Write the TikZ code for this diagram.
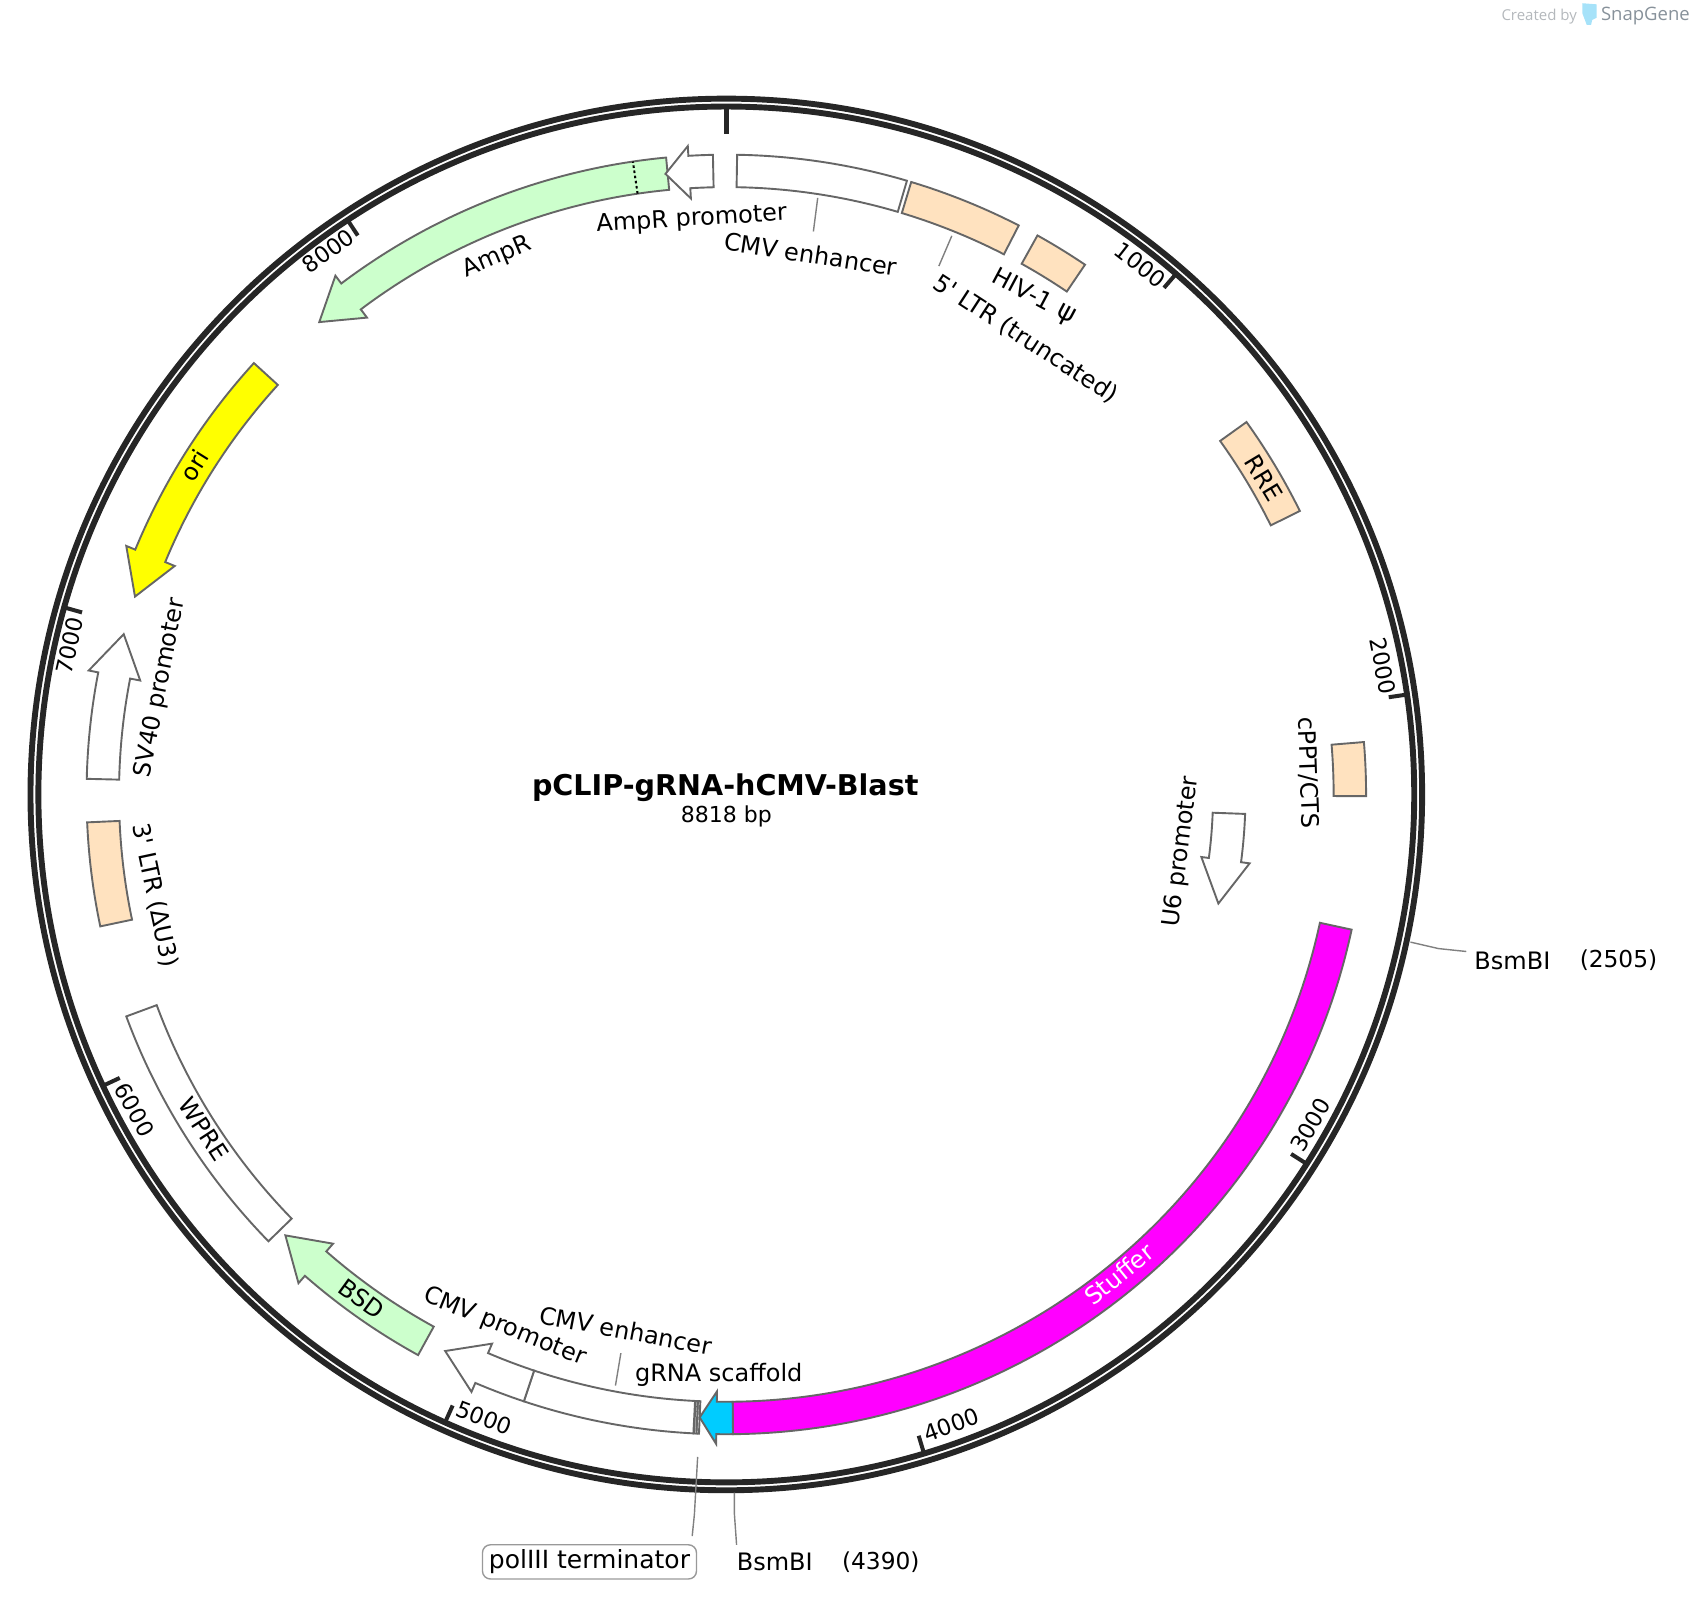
\documentclass[tikz,border=0pt]{standalone}
\usepackage{fontspec}
\setmainfont{DejaVu Sans}
\newfontfamily\markfont{Open Sans}
\usetikzlibrary{positioning}
\definecolor{ringcol}{HTML}{262626}
\definecolor{featline}{HTML}{666666}
\definecolor{ampgreen}{HTML}{CCFFCC}
\definecolor{ltrpeach}{HTML}{FFE2BF}
\definecolor{oriyellow}{HTML}{FFFF00}
\definecolor{stuffcol}{HTML}{FF00FF}
\definecolor{scafblue}{HTML}{00CCFF}
\definecolor{markgray}{HTML}{B4B8BC}
\definecolor{snapgray}{HTML}{87919A}
\tikzset{
  feat/.style={draw=featline, line width=1.9pt, line join=miter},
  lab/.style={font=\fontsize{24}{28}\selectfont, inner sep=0pt},
  ticklab/.style={font=\fontsize{22.5}{26}\selectfont, inner sep=0pt},
  leader/.style={draw=gray, line width=1.4pt},
  ticksmall/.style={draw=ringcol, line width=4pt},
  ringline/.style={draw=ringcol, line width=5.9pt},
}
% radii of the feature track
\def\rin{561.5}
\def\rout{591.5}
\def\hin{552}
\def\hout{600.5}
\def\rtip{576.5}
% band from angle #1 to #2, angles clockwise from the top
\newcommand{\band}[3]{
  \draw[feat, fill=#3] ({90-#1}:\rin) arc[start angle={90-#1}, end angle={90-#2}, radius=\rin]
    -- ({90-#2}:\rout) arc[start angle={90-#2}, end angle={90-#1}, radius=\rout] -- cycle;
}
% arrow: tail #1, head base #2, tip #3
\newcommand{\feat}[4]{
  \draw[feat, fill=#4] ({90-#1}:\rin) arc[start angle={90-#1}, end angle={90-#2}, radius=\rin]
    -- ({90-#2}:\hin) -- ({90-#3}:\rtip) -- ({90-#2}:\hout) -- ({90-#2}:\rout)
    arc[start angle={90-#2}, end angle={90-#1}, radius=\rout] -- cycle;
}
\begin{document}
\begin{tikzpicture}[x=1.0816pt, y=1.0816pt]
\useasboundingbox (-671.5,-743) rectangle (896.5,734.5);

% ring
    \draw[ringline] (0,0) circle (643.3);
    \draw[ringline] (0,0) circle (636);
% ticks
    \draw[ringcol, line width=5pt] (90:634) -- (90:611);
    \foreach \k in {1000,2000,...,8000}{
        \draw[ticksmall] ({90-\k/8818*360}:634) -- ({90-\k/8818*360}:619);
    }
    \node[ticklab, rotate=-38] (tickA) at (383,489.5) {1000};
    \node[ticklab, rotate=-79] (tickB) at (607,118.5) {2000};
    \node[ticklab, rotate=60] (tickC) at (540,-305.5) {3000};
    \node[ticklab, rotate=20] (tickD) at (208,-582.5) {4000};
    \node[ticklab, rotate=-21] (tickE) at (-224,-576.5) {5000};
    \node[ticklab, rotate=-62] (tickF) at (-547,-291.5) {6000};
    \node[ticklab, rotate=77] (tickG) at (-607,137.5) {7000};
    \node[ticklab, rotate=36] (tickH) at (-368,502.5) {8000};

% features
    \band{0.97}{16.4}{white}
    \band{16.8}{27.2}{ltrpeach}
    \band{29.1}{34.1}{ltrpeach}
    \band{54.4}{63.7}{ltrpeach}
    \band{85.3}{90.15}{ltrpeach}
    \band{102.2}{179.4}{stuffcol}
    \band{182.45}{182.68}{white}
    \band{182.68}{182.9}{white}
    \feat{179.4}{180.9}{182.45}{scafblue}
    \band{182.95}{198.45}{white}
    \feat{198.45}{203.1}{206.8}{white}
    \feat{208.8}{221.2}{225}{ampgreen}
    \band{225.7}{249.7}{white}
    \band{258.1}{267.5}{ltrpeach}
    \feat{271.4}{281}{284.9}{white}
    \feat{312.4}{292.5}{288.5}{oriyellow}
    \feat{354.6}{323}{319.25}{ampgreen}
    \feat{358.8}{356.6}{354.4}{white}
    {\def\rin{450}\def\rout{480}\def\hin{443}\def\hout{488}\def\rtip{466}
    \feat{92.15}{97.5}{102.5}{white}}
    \draw[black, line width=2pt, dash pattern=on 2.6pt off 2.6pt] (90-351.6:\rin) -- (90-351.6:\rout);

% labels
    \node[lab, rotate=3.4] (amprprom) at (-32,531.5) {AmpR promoter};
    \node[lab, rotate=-8.7] (cmvenhA) at (78,499.5) {CMV enhancer};
    \node[lab, rotate=-33] (ltrA) at (277,421) {5\textquotesingle{} LTR (truncated)};
    \node[lab, rotate=-28] (hiv) at (284,459.5) {HIV-1\hspace{9pt}{\fontsize{27}{28}\selectfont ψ}};
    \node[lab, rotate=23] (ampr) at (-212,496.5) {AmpR};
    \node[lab, rotate=58] (ori) at (-492,304.5) {ori};
    \node[lab, rotate=-59] (rre) at (497,292.5) {RRE};
    \node[lab, rotate=-88] (cppt) at (538,20) {cPPT/CTS};
    \node[lab, rotate=83] (usix) at (421,-53) {U6 promoter};
    \node[lab, rotate=79] (svforty) at (-523,98.5) {SV40 promoter};
    \node[lab, rotate=-78] (ltrB) at (-528.5,-93.5) {3\textquotesingle{} LTR (ΔU3)};
    \node[lab, rotate=-57] (wpre) at (-483,-309.5) {WPRE};
    \node[lab, rotate=-36] (bsd) at (-337,-466.5) {BSD};
    \node[lab, rotate=-22] (cmvprom) at (-205,-492.5) {CMV promoter};
    \node[lab, rotate=-10.7] (cmvenhB) at (-93,-495.5) {CMV enhancer};
    \node[lab] (grna) at (-7,-537) {gRNA scaffold};
    \node[lab, rotate=39, text=white] (stuffer) at (363,-443.5) {Stuffer};

% sites below and beside the ring
    \node[lab, anchor=west] (bsmA) at (691.5,-153.5) {BsmBI};
    \node[ticklab, font=\fontsize{23.3}{26}\selectfont, right=29pt of bsmA] (bsmApos) {(2505)};
    \node[lab, anchor=west] (bsmB) at (9.5,-709.5) {BsmBI};
    \node[ticklab, font=\fontsize{23.3}{26}\selectfont, right=29pt of bsmB] (bsmBpos) {(4390)};
    \node[lab, font=\fontsize{25}{28}\selectfont, draw=gray!80, line width=1.4pt, rounded corners=8pt, inner xsep=6.5pt, inner ysep=5pt] (polthree) at (-126.5,-709.5) {polIII terminator};

% leader lines
    \coordinate (enhAa) at (84.5,551.5);
    \coordinate (enhAb) at (80.5,520.5);
    \coordinate (ltrAa) at (208.5,516.5);
    \coordinate (ltrAb) at (196.5,488.5);
    \coordinate (enhBa) at (-97.5,-516.5);
    \coordinate (enhBb) at (-102.5,-546.5);
    \coordinate (bsmAa) at (632.5,-136.5);
    \coordinate (bsmAb) at (658.5,-142.5);
    \coordinate (bsmBa) at (7.5,-645.5);
    \coordinate (bsmBb) at (7.5,-665.5);
    \coordinate (polA) at (-26.5,-612.5);
    \coordinate (polB) at (-29.5,-665.5);
    \path[leader] (enhAa) -- (enhAb);
    \path[leader] (ltrAa) -- (ltrAb);
    \path[leader] (enhBa) -- (enhBb);
    \path[leader] (bsmAa) -- (bsmAb) -- ([xshift=-8pt,yshift=9pt]bsmA.west);
    \path[leader] (bsmBa) -- (bsmBb) -- ([yshift=8pt]bsmB.north west);
    \path[leader] (polA) -- (polB) -- ([xshift=-5pt,yshift=8pt]polthree.north east);

% centre
    \node[font=\fontsize{28.6}{32}\selectfont\bfseries, inner sep=0pt] (title) at (-1,6.5) {pCLIP-gRNA-hCMV-Blast};
    \node[font=\fontsize{22}{26}\selectfont, inner sep=0pt] (size) at (0,-20.5) {8818 bp};

% watermark
    \node[font=\fontsize{15}{18}\selectfont\markfont, text=markgray, anchor=east, inner sep=0pt] (created) at (786.5,719.5) {Created by};
    \node[font=\fontsize{18.5}{22}\selectfont\markfont, text=snapgray, anchor=west, inner sep=0pt] (snap) at (808.5,719.5) {SnapGene};
    \fill[cyan!35] (791.5,731.5) -- (804.5,730.5) -- (804.5,718) -- (800.5,716) -- (799.5,711.5) -- (795.5,711.5) -- (791.5,722) -- cycle;
\end{tikzpicture}
\end{document}
